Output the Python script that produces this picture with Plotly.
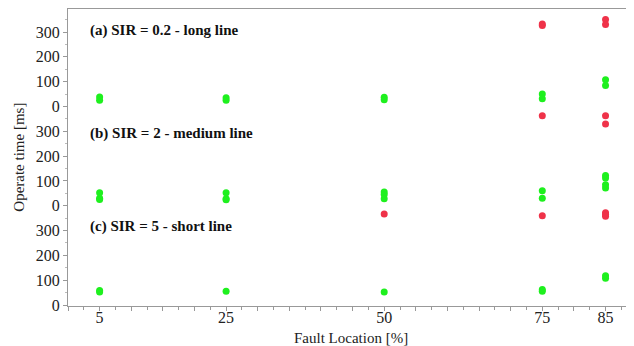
import plotly.graph_objects as go

# Fault locations [%]
locations = [5, 25, 50, 75, 85]

# Operate times [ms] per panel; green = normal trips, red = delayed trips
# (a) SIR = 0.2 - long line
a_green = {5: [38, 25], 25: [35, 25], 50: [37, 27], 75: [50, 31], 85: [108, 85]}
a_red = {75: [333, 327], 85: [351, 331]}
# (b) SIR = 2 - medium line
b_green = {5: [52, 30, 25], 25: [52, 28, 24], 50: [55, 45, 28], 75: [60, 30], 85: [122, 112, 85, 72]}
b_red = {75: [363], 85: [363, 330]}
# (c) SIR = 5 - short line
c_green = {5: [58, 52], 25: [55], 50: [52], 75: [62, 55], 85: [118, 108]}
c_red = {50: [367], 75: [360], 85: [372, 365, 358]}

panel_titles = ["(a) SIR = 0.2 - long line", "(b) SIR = 2 - medium line", "(c) SIR = 5 - short line"]
panel_offsets = [800, 400, 0]
panel_title_levels = [308, 290, 318]
y_tick_labels = ["0", "100", "200", "300"]
x_title = "Fault Location [%]"
y_title = "Operate time [ms]"

GREEN = "#1ef01e"
RED = "#ef3249"

fig = go.Figure()

def add_points(data, offset, color):
    xs, ys = [], []
    for loc in locations:
        for v in data.get(loc, []):
            xs.append(loc)
            ys.append(v + offset)
    fig.add_trace(go.Scatter(x=xs, y=ys, mode="markers",
                             marker=dict(color=color, size=7, line=dict(width=0)),
                             showlegend=False, hoverinfo="skip"))

for g, r, off in [(a_green, a_red, 800), (b_green, b_red, 400), (c_green, c_red, 0)]:
    add_points(g, off, GREEN)
    add_points(r, off, RED)

tickvals_y = []
ticktext_y = []
for off in [0, 400, 800]:
    for i, t in enumerate(y_tick_labels):
        tickvals_y.append(off + 100 * i)
        ticktext_y.append(t)

xtickvals = list(range(0, 90, 5))
xticktext = [str(v) if v in locations else "" for v in xtickvals]

font_family = "Liberation Serif, serif"

# page has an 8px body margin, so the figure is sized to fill the rest
fig.update_layout(
    width=626, height=338,
    margin=dict(l=60, r=0, t=1, b=40),
    paper_bgcolor="white", plot_bgcolor="white",
    font=dict(family=font_family, size=16, color="#222"),
    xaxis=dict(range=[0, 89.5], tickmode="array", tickvals=xtickvals, ticktext=xticktext,
               ticks="outside", ticklen=4, tickcolor="#999", showgrid=False, zeroline=False,
               showline=True, linecolor="#999", linewidth=1, mirror=True, automargin=False,
               ticklabelstandoff=-7,
               minor=dict(dtick=2.5, tick0=0, ticks="outside", ticklen=3, tickcolor="#999"),
               tickfont=dict(size=16)),
    yaxis=dict(range=[-4, 1193], tickmode="array", tickvals=tickvals_y, ticktext=ticktext_y,
               ticks="outside", ticklen=4, tickcolor="#999", showgrid=False, zeroline=False,
               showline=True, linecolor="#999", linewidth=1, automargin=False,
               minor=dict(dtick=50, tick0=0, ticks="outside", ticklen=2, tickcolor="#bbb"),
               tickfont=dict(size=16)),
)

for title, off, lvl in zip(panel_titles, panel_offsets, panel_title_levels):
    fig.add_annotation(x=0.035, xref="paper", y=off + lvl, yref="y", text="<b>" + title + "</b>",
                       showarrow=False, xanchor="left", yanchor="middle",
                       font=dict(size=15, color="#111", family=font_family))

fig.add_annotation(x=0.5, xref="paper", y=-0.108, yref="paper", text=x_title,
                   showarrow=False, xanchor="center", yanchor="middle",
                   font=dict(size=15, color="#222", family=font_family))
fig.add_annotation(x=-0.088, xref="paper", y=0.5, yref="paper", text=y_title, textangle=-90,
                   showarrow=False, xanchor="center", yanchor="middle",
                   font=dict(size=15, color="#222", family=font_family))

fig.write_html("out.html")
